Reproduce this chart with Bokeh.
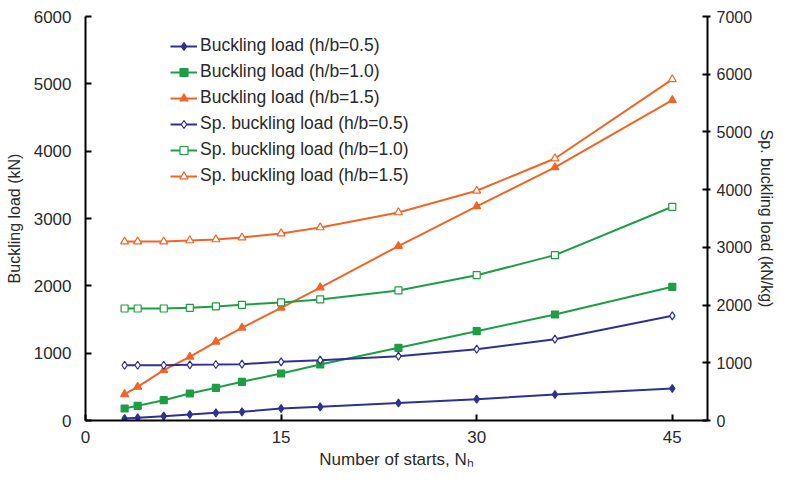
from bokeh.plotting import figure
from bokeh.models import Range1d, LinearAxis, FixedTicker, Legend, LegendItem
from bokeh.embed import file_html
from bokeh.resources import INLINE

starts = [3, 4, 6, 8, 10, 12, 15, 18, 24, 30, 36, 45]

# Buckling load (kN) - left axis
bl_05 = [30, 40, 64, 89, 114, 129, 178, 203, 260, 317, 386, 475]
bl_10 = [178, 218, 302, 401, 486, 575, 698, 832, 1080, 1327, 1574, 1985]
bl_15 = [390, 500, 747, 946, 1169, 1377, 1674, 1975, 2590, 3180, 3758, 4757]

# Specific buckling load (kN/kg) - right axis
sp_05 = [958, 958, 958, 965, 970, 976, 1017, 1045, 1115, 1236, 1409, 1814]
sp_10 = [1941, 1941, 1941, 1953, 1976, 2005, 2045, 2097, 2253, 2518, 2865, 3703]
sp_15 = [3100, 3100, 3100, 3120, 3137, 3170, 3240, 3345, 3605, 3980, 4540, 5910]

x_ticks = [0, 15, 30, 45]
left_ticks = [0, 1000, 2000, 3000, 4000, 5000, 6000]
right_ticks = [0, 1000, 2000, 3000, 4000, 5000, 6000, 7000]

BLUE = "#2E3192"
GREEN = "#1E9E44"
ORANGE = "#F26425"
FONT = "Liberation Sans"
TXT = "#2a2a2a"

p = figure(frame_width=622, frame_height=404, output_backend="svg",
           toolbar_location=None,
           x_range=Range1d(0, 47.7), y_range=Range1d(0, 6000),
           min_border_left=85, min_border_right=69, min_border_top=16,
           min_border_bottom=52)
p.extra_y_ranges = {"sp": Range1d(0, 7000)}
p.outline_line_color = None
p.xgrid.visible = False
p.ygrid.visible = False

def style_axis(ax, ticks, tin, tout):
    ax.ticker = FixedTicker(ticks=ticks)
    ax.axis_line_width = 2
    ax.axis_line_color = "black"
    ax.major_tick_line_width = 2
    ax.major_tick_line_color = "black"
    ax.major_tick_in = tin
    ax.major_tick_out = tout
    ax.minor_tick_line_color = None
    ax.major_label_text_font = FONT
    ax.major_label_text_font_size = "17px"
    ax.major_label_text_color = TXT
    ax.axis_label_text_font = FONT
    ax.axis_label_text_font_style = "normal"
    ax.axis_label_text_color = TXT

style_axis(p.xaxis[0], x_ticks, 6, 0)
p.xaxis[0].axis_label = "Number of starts, N\u2095"
p.xaxis[0].axis_label_text_font_size = "17px"
p.xaxis[0].major_label_standoff = 10
p.xaxis[0].axis_label_standoff = 4

style_axis(p.yaxis[0], left_ticks, 6, 0)
p.yaxis[0].axis_label = "Buckling load (kN)"
p.yaxis[0].axis_label_text_font_size = "16px"
p.yaxis[0].major_label_standoff = 14
p.yaxis[0].axis_label_standoff = 8

raxis = LinearAxis(y_range_name="sp")
style_axis(raxis, right_ticks, 5, 3)
raxis.axis_label = "Sp. buckling load (kN/kg)"
raxis.axis_label_text_font_size = "16px"
raxis.major_label_text_font_size = "16px"
raxis.major_label_standoff = 6
raxis.axis_label_standoff = 3
p.add_layout(raxis, "right")

items = []
def series(ys, color, marker, filled, label, yrange="default"):
    l = p.line(starts, ys, line_color=color, line_width=2, y_range_name=yrange)
    s = p.scatter(starts, ys, marker=marker, size=8 if marker != "square" else 7,
                  line_color=color, line_width=1.2,
                  fill_color=color if filled else "white",
                  y_range_name=yrange)
    items.append(LegendItem(label=label, renderers=[l, s]))

series(bl_05, BLUE, "diamond", True, "Buckling load (h/b=0.5)")
series(bl_10, GREEN, "square", True, "Buckling load (h/b=1.0)")
series(bl_15, ORANGE, "triangle", True, "Buckling load (h/b=1.5)")
series(sp_05, BLUE, "diamond", False, "Sp. buckling load (h/b=0.5)", "sp")
series(sp_10, GREEN, "square", False, "Sp. buckling load (h/b=1.0)", "sp")
series(sp_15, ORANGE, "triangle", False, "Sp. buckling load (h/b=1.5)", "sp")

legend = Legend(items=items, location=(85, 234))
legend.padding = 0
legend.margin = 0
legend.spacing = 5
legend.glyph_height = 20
legend.label_height = 20
legend.glyph_width = 27
legend.label_standoff = 3
legend.border_line_color = None
legend.background_fill_alpha = 0
legend.label_text_font = FONT
legend.label_text_font_size = "17.5px"
legend.label_text_color = TXT
p.add_layout(legend, "center")

open("out.html", "w").write(file_html(p, INLINE))
